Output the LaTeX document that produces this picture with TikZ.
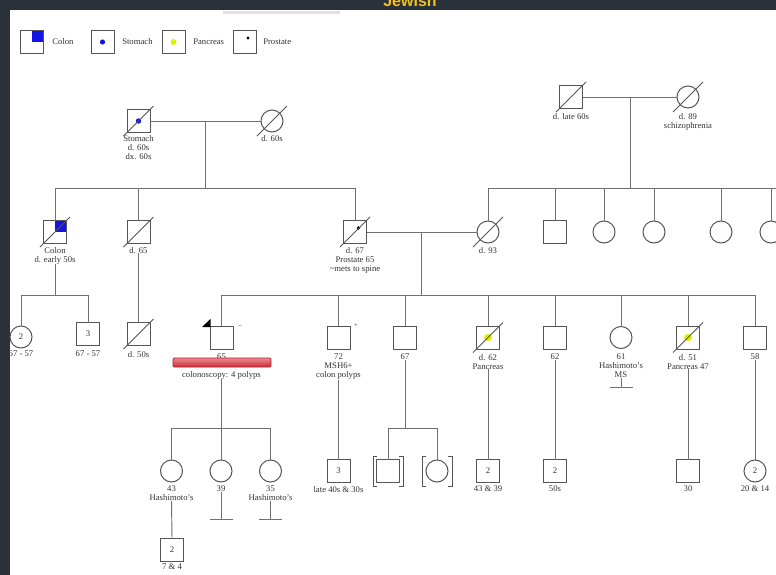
\documentclass[tikz,border=0pt]{standalone}
\usepackage{fontspec}
\setmainfont{Liberation Serif}
\newfontfamily\hdrfont{Liberation Sans}
\definecolor{bgd}{HTML}{2B3138}
\definecolor{lg}{HTML}{707070}
\definecolor{sg}{HTML}{555555}
\definecolor{tg}{HTML}{333333}
\definecolor{cblue}{HTML}{1414E6}
\definecolor{cyel}{HTML}{DDF200}
\definecolor{gold}{HTML}{F5C21B}
\definecolor{bartop}{HTML}{EC8A90}
\definecolor{barbot}{HTML}{C92A35}
\definecolor{barline}{HTML}{A8222C}
\newcommand\lbl{\fontsize{6.5}{6.75}\selectfont}
\newcommand\dcsd[1]{\draw[dec] ([shift={(-15,15)}]#1.center) -- ([shift={(15,-15)}]#1.center);}
\newcommand\brk[1]{%
  \draw[dec] ([shift={(-11,-15)}]#1.center) -- ([shift={(-15,-15)}]#1.center) -- ([shift={(-15,15)}]#1.center) -- ([shift={(-11,15)}]#1.center);
  \draw[dec] ([shift={(11,-15)}]#1.center) -- ([shift={(15,-15)}]#1.center) -- ([shift={(15,15)}]#1.center) -- ([shift={(11,15)}]#1.center);}
\begin{document}
\begin{tikzpicture}[x=0.75pt,y=-0.75pt,
  ln/.style={draw=lg,line width=0.7pt},
  dec/.style={draw=sg,line width=0.7pt},
  sym/.style={draw=sg,line width=0.75pt,inner sep=0pt,outer sep=0pt,fill=white,font=\lbl,text=tg},
  male/.style={sym,rectangle,minimum size=17.25pt},
  female/.style={sym,circle,minimum size=16.5pt},
  lab/.style={anchor=north,inner sep=0pt,outer sep=0pt,align=center,font=\lbl,text=tg},
  legtxt/.style={anchor=west,inner sep=0pt,font=\lbl,text=tg},
  sign/.style={inner sep=0pt,font=\fontsize{5}{5}\selectfont,text=tg}]
\useasboundingbox (0,0) rectangle (776,575);
\fill[bgd] (0,0) rectangle (776,575);
\fill[white] (10,10) rectangle (776,575);
\fill[black!12] (223,11) rectangle (340,14);
\node[anchor=base,inner sep=0pt,text=gold,font=\hdrfont\bfseries\fontsize{12}{12}\selectfont] (title) at (410,6) {Jewish};

% legend
\node[male] (lg1) at (31.5,41.5) {};
\fill[cblue] (lg1.north) rectangle (lg1.east);
\draw[sg,line width=0.75pt] (lg1.north west) rectangle (lg1.south east);
\node[legtxt] (lt1) at (52,42) {Colon};
\node[male] (lg2) at (102.5,42) {};
\fill[cblue] (lg2.center) circle[radius=2.6];
\node[legtxt] (lt2) at (122,42) {Stomach};
\node[male] (lg3) at (173.5,42) {};
\fill[cyel] (lg3.center) circle[radius=3];
\node[legtxt] (lt3) at (193,42) {Pancreas};
\node[male] (lg4) at (244.5,42) {};
\fill[black] ([shift={(3.5,-4)}]lg4.center) circle[radius=1.7];
\node[legtxt] (lt4) at (263,42) {Prostate};

% generation I, left couple
\node[male] (gf1) at (138.5,121) {};
\fill[cblue] (gf1.center) circle[radius=2.7];
\node[lab] (gf1l) at (138.5,135.5) {Stomach\\d. 60s\\dx. 60s};
\node[female] (gm1) at (272,121) {};
\node[lab] (gm1l) at (272,135.5) {d. 60s};
\dcsd{gf1}\dcsd{gm1}
\draw[ln] (gf1.east) -- (gm1.west);
\coordinate (m1) at (205,121);
\coordinate (sib1) at (205,188);
\draw[ln] (m1) -- (sib1);

% generation I, right couple
\node[male] (gf2) at (571,97) {};
\node[female] (gm2) at (688,97) {};
\dcsd{gf2}\dcsd{gm2}
\node[lab] (gf2l) at (571,113) {d. late 60s};
\node[lab] (gm2l) at (688,113) {d. 89\\schizophrenia};
\draw[ln] (gf2.east) -- (gm2.west);
\coordinate (m2) at (630,97);
\coordinate (sib2) at (630,188);
\coordinate (sib2r) at (790,188);
\draw[ln] (m2) -- (sib2);

% generation II
\node[male] (colon) at (55,232) {};
\fill[cblue] (colon.north) rectangle (colon.east);
\draw[sg,line width=0.75pt] (colon.north west) rectangle (colon.south east);
\dcsd{colon}
\node[lab] (colonl) at (55,247) {Colon\\d. early 50s};
\node[male] (u65) at (138.5,232) {};
\dcsd{u65}
\node[lab] (u65l) at (138.5,247) {d. 65};
\node[male] (gp) at (355,232) {};
\fill[black] ([shift={(3.5,-4)}]gp.center) circle[radius=1.8];
\dcsd{gp}
\node[lab] (gpl) at (355,247) {d. 67\\Prostate 65\\\textasciitilde mets to spine};
\node[female] (gm) at (488,232) {};
\dcsd{gm}
\node[lab] (gml) at (488,247) {d. 93};
\node[male] (r1) at (555,232) {};
\node[female] (r2) at (604,232) {};
\node[female] (r3) at (654,232) {};
\node[female] (r4) at (721,232) {};
\node[female] (r5) at (771,232) {};

\draw[ln] (colon.north) -- (colon.north |- sib1) -- (gp.north |- sib1) -- (gp.north);
\draw[ln] (u65.north) -- (u65.north |- sib1);
\draw[ln] (gm.north) |- (sib2r);
\foreach \n in {r1,r2,r3,r4,r5} {\draw[ln] (\n.north) -- (\n.north |- sib2);}
\draw[ln] (gp.east) -- (gm.west);
\coordinate (m3) at (421,232);
\coordinate (sib3) at (421,295);
\draw[ln] (m3) -- (sib3);

% colon's children
\coordinate (sibc) at (55,295);
\draw[ln] (colonl.south) -- (sibc);
\node[female] (c1) at (21,337) {2};
\node[male] (c2) at (88,334) {3};
\node[lab] (c1l) at (21,351) {67 - 57};
\node[lab] (c2l) at (88,351) {67 - 57};
\draw[ln] (c1.north) -- (c1.north |- sibc) -- (c2.north |- sibc) -- (c2.north);

% d.65's son
\node[male] (u65s) at (138.5,334) {};
\dcsd{u65s}
\node[lab] (u65sl) at (138.5,351) {d. 50s};
\draw[ln] (u65l.south) -- (u65s.north);

% generation III
\node[male] (pb) at (221.5,337.5) {};
\node[male] (s72) at (338.5,337.5) {};
\node[male] (s67) at (405,337.5) {};
\node[male] (s62d) at (488,337.5) {};
\fill[cyel] (s62d.center) ellipse[x radius=4,y radius=3.6];
\dcsd{s62d}
\node[male] (s62) at (555,337.5) {};
\node[female] (s61) at (621,337.5) {};
\node[male] (s51) at (688,337.5) {};
\fill[cyel] (s51.center) ellipse[x radius=4,y radius=3.6];
\dcsd{s51}
\node[male] (s58) at (755,337.5) {};
\draw[ln] (pb.north) -- (pb.north |- sib3) -- (s58.north |- sib3) -- (s58.north);
\foreach \n in {s72,s67,s62d,s62,s61,s51} {\draw[ln] (\n.north) -- (\n.north |- sib3);}

\fill[black] ([shift={(-8,1)}]pb.north west) -- ([shift={(0.5,-7)}]pb.north west) -- ([shift={(0.5,1)}]pb.north west) -- cycle;
\node[sign] (pbsign) at (240,327) {--};
\node[sign] (s72sign) at (356,326) {+};

\node[lab] (pbl) at (221.5,354) {65};
\draw[barline,line width=0.5pt,top color=bartop,bottom color=barbot,rounded corners=0.8pt] (173,358) rectangle (271,367);
\node[lab] (pbl2) at (221.5,371) {colonoscopy: 4 polyps};
\node[lab] (s72l) at (338.5,354) {72\\MSH6+\\colon polyps};
\node[lab] (s67l) at (405,354) {67};
\node[lab] (s62dl) at (488,354) {d. 62\\Pancreas};
\node[lab] (s62l) at (555,354) {62};
\node[lab] (s61l) at (621,354) {61\\Hashimoto's\\MS};
\node[lab] (s51l) at (688,354) {d. 51\\Pancreas 47};
\node[lab] (s58l) at (755,354) {58};

% 61: no children
\coordinate (nc61) at (621,387);
\draw[ln] (s61l.south) -- (nc61) ++(-11.5,0) -- ++(23,0);

% generation IV: proband's children
\coordinate (sib4) at (221.5,428);
\draw[ln] (pbl2.south) -- (sib4);
\node[female] (d43) at (171.5,471) {};
\node[female] (d39) at (221,471) {};
\node[female] (d35) at (270.5,471) {};
\draw[ln] (d43.north) -- (d43.north |- sib4) -- (d35.north |- sib4) -- (d35.north);
\draw[ln] (d39.north) -- (d39.north |- sib4);
\node[lab] (d43l) at (171.5,486) {43\\Hashimoto's};
\node[lab] (d39l) at (221,486) {39};
\node[lab] (d35l) at (270.5,486) {35\\Hashimoto's};
\coordinate (nc39) at (221,519);
\coordinate (nc35) at (270.5,519);
\draw[ln] (d39l.south) -- (nc39) ++(-11.5,0) -- ++(23,0);
\draw[ln] (d35l.south) -- (nc35) ++(-11.5,0) -- ++(23,0);
\node[male] (g2) at (172,550) {2};
\node[lab] (g2l) at (172,564) {7 \& 4};
\draw[ln] (d43l.south) -- (g2.north);

% other generation IV
\node[male] (k72) at (338.5,471) {3};
\node[lab] (k72l) at (338.5,486) {late 40s \& 30s};
\draw[ln] (s72l.south) -- (k72.north);

\coordinate (sib5) at (405,428);
\draw[ln] (s67l.south) -- (sib5);
\node[male] (a1) at (388,471) {};
\node[female] (a2) at (437,471) {};
\draw[ln] (a1.north) -- (a1.north |- sib5) -- (a2.north |- sib5) -- (a2.north);
\brk{a1}\brk{a2}

\node[male] (k62d) at (488,471) {2};
\node[lab] (k62dl) at (488,486) {43 \& 39};
\draw[ln] (s62dl.south) -- (k62d.north);
\node[male] (k62) at (555,471) {2};
\node[lab] (k62l) at (555,486) {50s};
\draw[ln] (s62l.south) -- (k62.north);
\node[male] (k51) at (688,471) {};
\node[lab] (k51l) at (688,486) {30};
\draw[ln] (s51l.south) -- (k51.north);
\node[female] (k58) at (755,471) {2};
\node[lab] (k58l) at (755,486) {20 \& 14};
\draw[ln] (s58l.south) -- (k58.north);
\end{tikzpicture}
\end{document}
